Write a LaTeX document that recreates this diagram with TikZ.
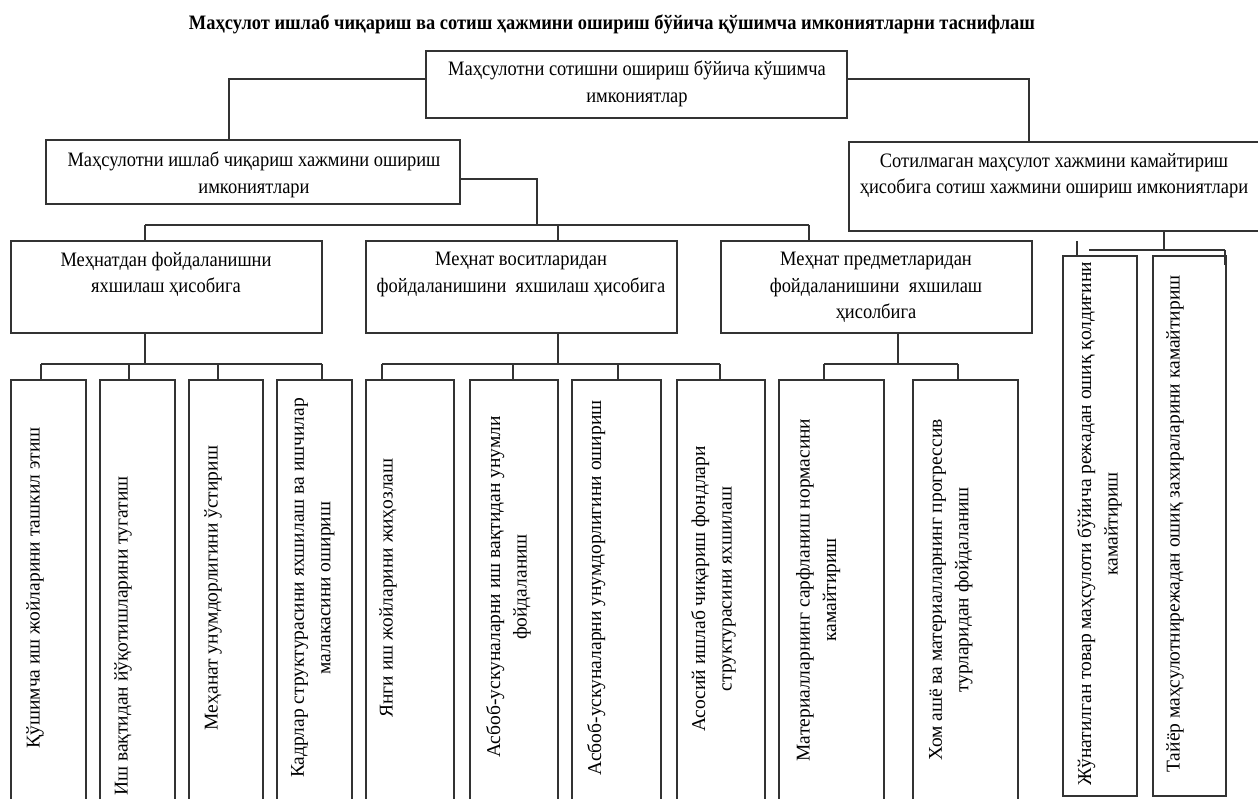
\documentclass[tikz,border=0pt]{standalone}
\usepackage{fontspec}
\setmainfont{Liberation Serif}
\newfontfamily\hfont[FakeStretch=0.9]{Liberation Serif}
\begin{document}
\begin{tikzpicture}[x=1pt,y=-1pt,
  box/.style={draw=black!80, line width=1.3pt, inner sep=0pt},
  conn/.style={draw=black!80, line width=1.3pt},
  htxt/.style={font=\hfont\fontsize{20.5}{26.5}\selectfont, align=center, inner sep=0pt, anchor=north},
  vtxt/.style={font=\fontsize{19.5}{26.5}\selectfont, align=center, inner sep=0pt, anchor=north, rotate=90},
  ttl/.style={font=\hfont\fontsize{20.5}{24}\selectfont\bfseries, inner sep=0pt, anchor=base}]
\useasboundingbox (0,0) rectangle (1258,799);

% title
\node[ttl] (title) at (612,30) {Маҳсулот ишлаб чиқариш ва сотиш ҳажмини ошириш бўйича қўшимча имкониятларни таснифлаш};

% boxes
\node[box, minimum width=421pt, minimum height=67pt] (Top) at (636.5,84.5) {};
\node[box, minimum width=414pt, minimum height=64pt] (B1) at (253,172) {};
\node[box, minimum width=411pt, minimum height=89pt] (B2) at (1054.5,186.5) {};
\node[box, minimum width=311pt, minimum height=92pt] (C1) at (166.5,287) {};
\node[box, minimum width=311pt, minimum height=92pt] (C2) at (521.5,287) {};
\node[box, minimum width=311pt, minimum height=92pt] (C3) at (876.5,287) {};
\node[box, minimum width=75pt, minimum height=421pt] (D1) at (48.5,590.5) {};
\node[box, minimum width=75pt, minimum height=421pt] (D2) at (137.5,590.5) {};
\node[box, minimum width=74pt, minimum height=421pt] (D3) at (226,590.5) {};
\node[box, minimum width=75pt, minimum height=421pt] (D4) at (314.5,590.5) {};
\node[box, minimum width=88pt, minimum height=421pt] (D5) at (410,590.5) {};
\node[box, minimum width=88pt, minimum height=421pt] (D6) at (514,590.5) {};
\node[box, minimum width=89pt, minimum height=421pt] (D7) at (616.5,590.5) {};
\node[box, minimum width=88pt, minimum height=421pt] (D8) at (721,590.5) {};
\node[box, minimum width=105pt, minimum height=421pt] (D9) at (831.5,590.5) {};
\node[box, minimum width=105pt, minimum height=421pt] (D10) at (965.5,590.5) {};
\node[box, minimum width=74pt, minimum height=540pt] (D11) at (1100,526) {};
\node[box, minimum width=73pt, minimum height=540pt] (D12) at (1189.5,526) {};

% horizontal texts
\node[htxt] (tTop) at (637,61) {Маҳсулотни сотишни ошириш бўйича кўшимча\\имкониятлар};
\node[htxt] (tB1) at (254,152) {Маҳсулотни ишлаб чиқариш хажмини ошириш\\имкониятлари};
\node[htxt] (tB2) at (1054,153) {Сотилмаган маҳсулот хажмини камайтириш\\ҳисобига сотиш хажмини ошириш имкониятлари};
\node[htxt] (tC1) at (166,252) {Меҳнатдан фойдаланишни\\яхшилаш ҳисобига};
\node[htxt] (tC2) at (521,252) {Меҳнат воситларидан\\фойдаланишини\ \ яхшилаш ҳисобига};
\node[htxt] (tC3) at (876,252) {Меҳнат предметларидан\\фойдаланишини\ \ яхшилаш\\ҳисолбига};

% vertical texts
\node[vtxt] (tD1) at (26,588) {Қўшимча иш жойларини ташкил этиш};
\node[vtxt] (tD2) at (114,636) {Иш вақтидан йўқотишларини тугатиш};
\node[vtxt] (tD3) at (204,588) {Меҳанат унумдорлигини ўстириш};
\node[vtxt] (tD4) at (291,588) {Кадрлар структурасини яхшилаш ва ишчилар\\малакасини ошириш};
\node[vtxt] (tD5) at (379,588) {Янги иш жойларини жиҳозлаш};
\node[vtxt] (tD6) at (486,587) {Асбоб-ускуналарни иш вақтидан унумли\\фойдаланиш};
\node[vtxt] (tD7) at (587,588) {Асбоб-ускуналарни унумдорлигини ошириш};
\node[vtxt] (tD8) at (691,589) {Асосий ишлаб чиқариш фондлари\\структурасини яхшилаш};
\node[vtxt] (tD9) at (796,590) {Материалларнинг сарфланиш нормасини\\камайтириш};
\node[vtxt] (tD10) at (929,590) {Хом ашё ва материалларнинг прогрессив\\турларидан фойдаланиш};
\node[vtxt] (tD11) at (1077,524) {Жўнатилган товар маҳсулоти бўйича режадан ошиқ қолдиғини\\камайтириш};
\node[vtxt] (tD12) at (1166,524) {Тайёр маҳсулотнирежадан ошиқ захираларини камайтириш};

% bus coordinates
\coordinate (b1L) at (145,225);
\coordinate (b1R) at (809,225);
\coordinate (c1L) at (41,364);
\coordinate (c1R) at (322,364);
\coordinate (c2L) at (382,364);
\coordinate (c2R) at (720,364);
\coordinate (c3L) at (824,364);
\coordinate (c3R) at (958,364);
\coordinate (r1) at (1089,250);
\coordinate (r2) at (1225,250);
\coordinate (r3) at (1225,265);
\coordinate (s1) at (1077,241);

% connectors, top level
\draw[conn] (Top.west |- 0,79) -| (B1.north -| 229,0);
\draw[conn] (Top.east |- 0,79) -| (B2.north -| 1029,0);
\draw[conn] (B1.east |- 0,179) -| (b1R -| 537,0);
\draw[conn] (b1L) -- (b1R);
\draw[conn] (C1.north -| b1L) -- (b1L);
\draw[conn] (C2.north -| 558,0) -- (b1L -| 558,0);
\draw[conn] (C3.north -| b1R) -- (b1R);

% C1 group
\draw[conn] (C1.south -| 145,0) -- (c1L -| 145,0);
\draw[conn] (c1L) -- (c1R);
\draw[conn] (D1.north -| c1L) -- (c1L);
\draw[conn] (D2.north -| 129,0) -- (c1L -| 129,0);
\draw[conn] (D3.north -| 218,0) -- (c1L -| 218,0);
\draw[conn] (D4.north -| c1R) -- (c1R);

% C2 group
\draw[conn] (C2.south -| 558,0) -- (c2L -| 558,0);
\draw[conn] (c2L) -- (c2R);
\draw[conn] (D5.north -| c2L) -- (c2L);
\draw[conn] (D6.north -| 513,0) -- (c2L -| 513,0);
\draw[conn] (D7.north -| 618,0) -- (c2L -| 618,0);
\draw[conn] (D8.north -| c2R) -- (c2R);

% C3 group
\draw[conn] (C3.south -| 898,0) -- (c3L -| 898,0);
\draw[conn] (c3L) -- (c3R);
\draw[conn] (D9.north -| c3L) -- (c3L);
\draw[conn] (D10.north -| c3R) -- (c3R);

% B2 group
\draw[conn] (B2.south -| 1164,0) -- (r1 -| 1164,0);
\draw[conn] (r1) -- (r2);
\draw[conn, line width=2pt] (r2) -- (r3);
\draw[conn] (s1) -- (D11.north -| s1);
\end{tikzpicture}
\end{document}
